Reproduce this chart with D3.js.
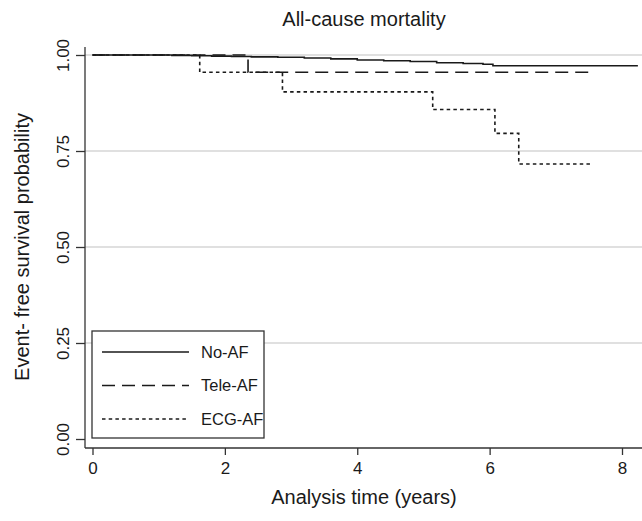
<!DOCTYPE html>
<html>
<head>
<meta charset="utf-8">
<script src="https://cdn.jsdelivr.net/npm/d3@7"></script>
<style>
  html, body { margin: 0; padding: 0; background: #fff; }
  svg { display: block; font-family: "Liberation Sans", Arial, sans-serif; }
</style>
</head>
<body>
<svg id="chart" width="642" height="521"></svg>
<script>
// ---- data ----
const chartTitle = "All-cause mortality";
const xTitle = "Analysis time (years)";
const yTitle = "Event- free survival probability";
const xTicks = [0, 2, 4, 6, 8];
const yTicks = [0, 0.25, 0.5, 0.75, 1];
const yTickLabels = ["0.00", "0.25", "0.50", "0.75", "1.00"];
const seriesNames = ["No-AF", "Tele-AF", "ECG-AF"];

const noAFTime = [0, 1.2, 1.5, 1.8, 2.1, 2.4, 2.8, 3.2, 3.6, 4.0, 4.4, 4.8, 5.2, 5.6, 5.9, 6.05, 8.24];
const noAFSurv = [1.0, 0.999, 0.998, 0.997, 0.996, 0.995, 0.994, 0.992, 0.990, 0.987, 0.985, 0.983, 0.980, 0.978, 0.976, 0.972, 0.972];
const teleTime = [0, 2.35, 7.54];
const teleSurv = [1.0, 0.955, 0.955];
const ecgTime = [0, 1.62, 2.87, 5.14, 6.08, 6.44, 7.53];
const ecgSurv = [1.0, 0.955, 0.904, 0.858, 0.796, 0.716, 0.716];

// ---- layout ----
const svg = d3.select("#chart");
const axisX = 85, axisY = 448, plotRight = 642;
const x = d3.scaleLinear().domain([0, 8]).range([92.5, 622]);
const y = d3.scaleLinear().domain([0, 1]).range([439, 55]);
const ink = "#1a1a1a";

// grid
svg.append("g").selectAll("line")
  .data(yTicks.filter(d => d > 0))
  .join("line")
  .attr("x1", axisX).attr("x2", plotRight)
  .attr("y1", d => y(d)).attr("y2", d => y(d))
  .attr("stroke", "#d6d6d6").attr("stroke-width", 1.6);

// y axis
const yAxis = d3.axisLeft(y).tickValues(yTicks).tickSize(9).tickFormat((d, i) => yTickLabels[i]);
const gy = svg.append("g").attr("transform", `translate(${axisX},0)`).call(yAxis);
gy.select(".domain").remove();
gy.selectAll(".tick line").attr("stroke", "#333").attr("stroke-width", 1.3);
gy.selectAll(".tick text")
  .attr("x", null).attr("dy", null)
  .attr("transform", "translate(-22,0) rotate(-90)")
  .attr("text-anchor", "middle").attr("dy", "0.35em")
  .attr("font-size", 17).attr("fill", ink);
svg.append("line").attr("x1", axisX).attr("x2", axisX).attr("y1", 47).attr("y2", axisY)
  .attr("stroke", "#333").attr("stroke-width", 1.3);

// x axis
const xAxis = d3.axisBottom(x).tickValues(xTicks).tickSize(7).tickFormat(d3.format("d"));
const gx = svg.append("g").attr("transform", `translate(0,${axisY})`).call(xAxis);
gx.select(".domain").remove();
gx.selectAll(".tick line").attr("stroke", "#333").attr("stroke-width", 1.3);
gx.selectAll(".tick text").attr("y", 20).attr("dy", "0.35em").attr("font-size", 17).attr("fill", ink);
svg.append("line").attr("x1", axisX).attr("x2", plotRight).attr("y1", axisY).attr("y2", axisY)
  .attr("stroke", "#333").attr("stroke-width", 1.3);

// curves
const series = [
  { name: seriesNames[0], t: noAFTime, s: noAFSurv, dash: null },
  { name: seriesNames[1], t: teleTime, s: teleSurv, dash: "13,7" },
  { name: seriesNames[2], t: ecgTime, s: ecgSurv, dash: "3.5,3.2" }
];
const line = d3.line().x(d => x(d[0])).y(d => y(d[1])).curve(d3.curveStepAfter);
svg.append("g").selectAll("path")
  .data(series.slice().reverse())
  .join("path")
  .attr("d", d => line(d.t.map((t, i) => [t, d.s[i]])))
  .attr("fill", "none").attr("stroke", ink).attr("stroke-width", 1.6)
  .attr("stroke-dasharray", d => d.dash);

// legend
const lg = svg.append("g");
lg.append("rect").attr("x", 92).attr("y", 331).attr("width", 172).attr("height", 107)
  .attr("fill", "#fff").attr("stroke", "#333").attr("stroke-width", 1.3);
const items = lg.selectAll("g.item").data(series).join("g")
  .attr("transform", (d, i) => `translate(0,${352 + i * 33.5})`);
items.append("line").attr("x1", 102).attr("x2", 189).attr("y1", 0).attr("y2", 0)
  .attr("stroke", ink).attr("stroke-width", 1.6).attr("stroke-dasharray", d => d.dash);
items.append("text").attr("x", 201).attr("y", 0).attr("dy", "0.35em")
  .attr("font-size", 16.5).attr("fill", ink).text(d => d.name);

// titles
svg.append("text").attr("x", 364).attr("y", 19).attr("dy", "0.35em").attr("text-anchor", "middle")
  .attr("font-size", 20).attr("fill", ink).text(chartTitle);
svg.append("text").attr("x", 364).attr("y", 497).attr("dy", "0.35em").attr("text-anchor", "middle")
  .attr("font-size", 20).attr("fill", ink).text(xTitle);
svg.append("text").attr("transform", "translate(22,247) rotate(-90)").attr("dy", "0.35em")
  .attr("text-anchor", "middle").attr("font-size", 20).attr("fill", ink).text(yTitle);
</script>
</body>
</html>
